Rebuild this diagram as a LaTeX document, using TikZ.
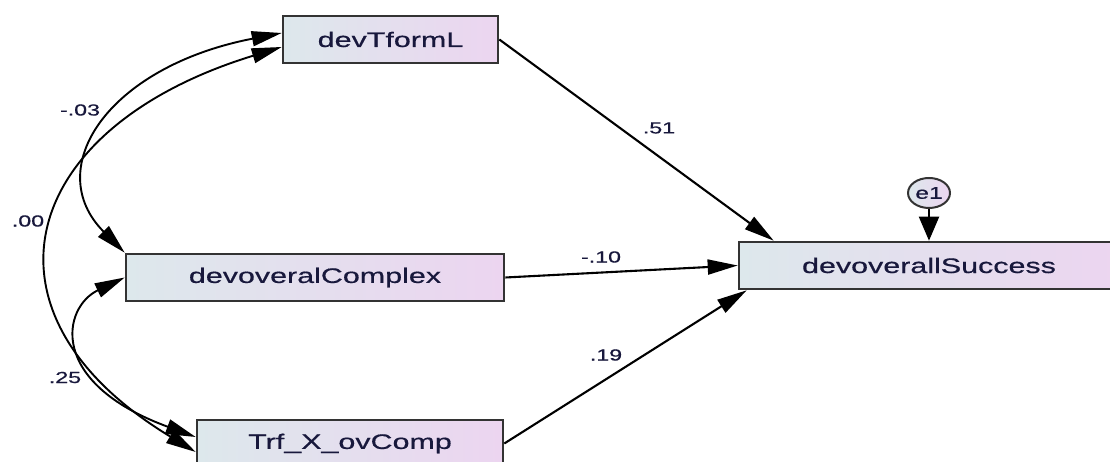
\documentclass[tikz,border=0pt]{standalone}
\usepackage{fontspec}
\newfontfamily\amosfont[FakeStretch=1.45,FakeBold=0.6]{Liberation Sans}
\usetikzlibrary{arrows.meta,shapes.geometric,positioning}

\definecolor{boxleft}{RGB}{221,232,236}
\definecolor{boxright}{RGB}{236,213,240}
\definecolor{txtnavy}{RGB}{24,24,60}

\tikzset{
  var/.style={rectangle, draw=black!80, line width=2.6pt, left color=boxleft, right color=boxright,
    minimum height=47pt, inner sep=0pt, text=txtnavy, font=\amosfont\fontsize{21}{25}\selectfont},
  err/.style={ellipse, draw=black!80, line width=2pt, left color=boxleft, right color=boxright,
    minimum width=42pt, minimum height=30pt, inner sep=0pt, text=txtnavy, font=\amosfont\fontsize{17}{20}\selectfont},
  coef/.style={inner sep=0pt, text=txtnavy, font=\amosfont\fontsize{16}{19}\selectfont},
  reg/.style={-{Triangle[length=30pt,width=15pt]}, line width=2.1pt},
  cov/.style={{Triangle[length=30pt,width=15pt]}-{Triangle[length=30pt,width=15pt]}, line width=1.9pt}
}

\begin{document}
\begin{tikzpicture}[x=1pt, y=1pt]
    \useasboundingbox (0,0) rectangle (1110,462);

    \node[var, minimum width=215pt] (tform) at (390.5, 422.5) {devTformL};
    \node[var, minimum width=378pt] (complex) at (315, 184.5) {devoveralComplex};
    \node[var, minimum width=306pt] (trf) at (350, 18.5) {Trf\_X\_ovComp};
    \node[var, minimum width=380pt] (succ) at (929, 196.5) {devoverallSuccess};
    \node[err] (e1) at (929, 269) {e1};

    % regression paths
    \draw[reg] (tform.east) -- ([xshift=36pt]succ.north west);
    \draw[reg] (complex.east) -- (succ.west);
    \draw[reg] (trf.east) -- ([xshift=9pt]succ.south west);
    \draw[-{Triangle[length=24pt,width=20pt]}, line width=2.1pt] (e1.south) -- (succ.north);

    % covariances
    \draw[cov] ([yshift=6.5pt]tform.west) .. controls (107,395) and (41,293) .. (complex.north west);
    \draw[cov] ([yshift=-7.5pt]tform.west) .. controls (20,335) and (-35,150) .. ([yshift=-8.5pt]trf.west);
    \draw[cov] (complex.west) .. controls (62.6,154.9) and (46.6,79.7) .. ([yshift=6.5pt]trf.west);

    \node[coef] (c51) at (659, 334) {.51};
    \node[coef] (c10) at (601, 205) {-.10};
    \node[coef] (c19) at (606, 107) {.19};
    \node[coef] (c03) at (80, 352) {-.03};
    \node[coef] (c00) at (28, 241) {.00};
    \node[coef] (c25) at (65, 84.5) {.25};
  \end{tikzpicture}
\end{document}
